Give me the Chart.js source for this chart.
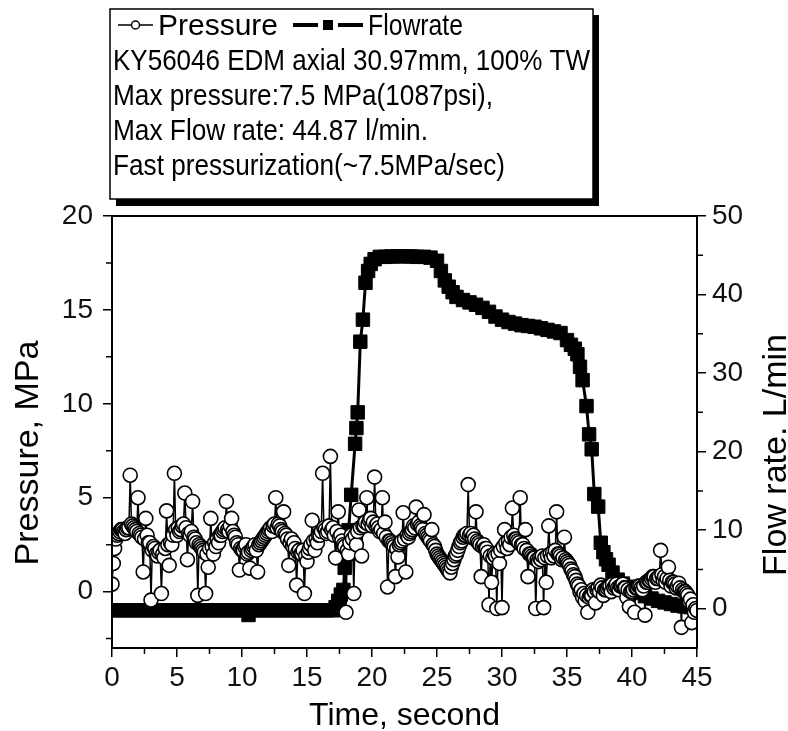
<!DOCTYPE html>
<html>
<head>
<meta charset="utf-8">
<script src="https://cdn.jsdelivr.net/npm/chart.js@4.4.0/dist/chart.umd.min.js"></script>
<style>
  html, body { margin: 0; padding: 0; background: #fff; }
</style>
</head>
<body>
<canvas id="chart" width="788" height="731"></canvas>
<script>
// pressure samples (MPa), one every 0.1 s
var pressureTime = [
  0,0.1,0.2,0.3,0.4,0.5,0.6,0.7,0.8,0.9, 1,1.1,1.2,1.3,1.4,1.5,1.6,1.7,1.8,1.9,
  2,2.1,2.2,2.3,2.4,2.5,2.6,2.7,2.8,2.9, 3,3.1,3.2,3.3,3.4,3.5,3.6,3.7,3.8,3.9,
  4,4.1,4.2,4.3,4.4,4.5,4.6,4.7,4.8,4.9, 5,5.1,5.2,5.3,5.4,5.5,5.6,5.7,5.8,5.9,
  6,6.1,6.2,6.3,6.4,6.5,6.6,6.7,6.8,6.9, 7,7.1,7.2,7.3,7.4,7.5,7.6,7.7,7.8,7.9,
  8,8.1,8.2,8.3,8.4,8.5,8.6,8.7,8.8,8.9, 9,9.1,9.2,9.3,9.4,9.5,9.6,9.7,9.8,9.9,
  10,10.1,10.2,10.3,10.4,10.5,10.6,10.7,10.8,10.9, 11,11.1,11.2,11.3,11.4,11.5,11.6,11.7,11.8,11.9,
  12,12.1,12.2,12.3,12.4,12.5,12.6,12.7,12.8,12.9, 13,13.1,13.2,13.3,13.4,13.5,13.6,13.7,13.8,13.9,
  14,14.1,14.2,14.3,14.4,14.5,14.6,14.7,14.8,14.9, 15,15.1,15.2,15.3,15.4,15.5,15.6,15.7,15.8,15.9,
  16,16.1,16.2,16.3,16.4,16.5,16.6,16.7,16.8,16.9, 17,17.1,17.2,17.3,17.4,17.5,17.6,17.7,17.8,17.9,
  18,18.1,18.2,18.3,18.4,18.5,18.6,18.7,18.8,18.9, 19,19.1,19.2,19.3,19.4,19.5,19.6,19.7,19.8,19.9,
  20,20.1,20.2,20.3,20.4,20.5,20.6,20.7,20.8,20.9, 21,21.1,21.2,21.3,21.4,21.5,21.6,21.7,21.8,21.9,
  22,22.1,22.2,22.3,22.4,22.5,22.6,22.7,22.8,22.9, 23,23.1,23.2,23.3,23.4,23.5,23.6,23.7,23.8,23.9,
  24,24.1,24.2,24.3,24.4,24.5,24.6,24.7,24.8,24.9, 25,25.1,25.2,25.3,25.4,25.5,25.6,25.7,25.8,25.9,
  26,26.1,26.2,26.3,26.4,26.5,26.6,26.7,26.8,26.9, 27,27.1,27.2,27.3,27.4,27.5,27.6,27.7,27.8,27.9,
  28,28.1,28.2,28.3,28.4,28.5,28.6,28.7,28.8,28.9, 29,29.1,29.2,29.3,29.4,29.5,29.6,29.7,29.8,29.9,
  30,30.1,30.2,30.3,30.4,30.5,30.6,30.7,30.8,30.9, 31,31.1,31.2,31.3,31.4,31.5,31.6,31.7,31.8,31.9,
  32,32.1,32.2,32.3,32.4,32.5,32.6,32.7,32.8,32.9, 33,33.1,33.2,33.3,33.4,33.5,33.6,33.7,33.8,33.9,
  34,34.1,34.2,34.3,34.4,34.5,34.6,34.7,34.8,34.9, 35,35.1,35.2,35.3,35.4,35.5,35.6,35.7,35.8,35.9,
  36,36.1,36.2,36.3,36.4,36.5,36.6,36.7,36.8,36.9, 37,37.1,37.2,37.3,37.4,37.5,37.6,37.7,37.8,37.9,
  38,38.1,38.2,38.3,38.4,38.5,38.6,38.7,38.8,38.9, 39,39.1,39.2,39.3,39.4,39.5,39.6,39.7,39.8,39.9,
  40,40.1,40.2,40.3,40.4,40.5,40.6,40.7,40.8,40.9, 41,41.1,41.2,41.3,41.4,41.5,41.6,41.7,41.8,41.9,
  42,42.1,42.2,42.3,42.4,42.5,42.6,42.7,42.8,42.9, 43,43.1,43.2,43.3,43.4,43.5,43.6,43.7,43.8,43.9,
  44,44.1,44.2,44.3,44.4,44.5,44.6,44.7,44.8,44.9, 45]
var pressure = [
  0.4,1.5,2.3,2.8,3.0,3.1,3.2,3.3,3.3,3.2, 3.1,3.3,3.4,3.4,6.2,3.6,3.5,3.4,3.3,3.2,
  5.0,3.1,3.0,2.9,1.05,2.8,3.9,3.0,2.6,2.6, -0.45,2.2,2.4,2.3,2.0,1.9,2.1,2.2,-0.1,2.0,
  1.8,2.3,4.3,2.5,1.4,2.6,2.5,3.0,6.3,3.3, 3.0,3.4,3.2,3.3,3.5,3.6,5.25,3.4,1.7,3.1,
  3.0,3.2,4.8,2.9,2.8,2.6,-0.2,2.5,2.4,2.3, 2.2,2.1,-0.1,2.0,1.3,2.3,3.9,2.4,2.0,2.6,
  2.4,2.8,2.6,3.0,3.0,3.2,3.3,3.4,4.8,3.3, 3.2,3.5,3.9,3.2,3.0,2.9,2.6,2.5,1.15,2.3,
  2.2,2.2,2.4,2.5,2.0,2.1,1.25,2.2,2.3,2.4, 2.5,2.2,1.05,2.5,2.6,2.7,2.8,2.9,3.0,3.1,
  3.2,3.3,3.4,3.2,3.5,3.6,5.0,3.4,3.6,3.5, 3.3,3.2,4.25,3.1,3.0,2.8,1.4,2.6,2.8,2.4,
  2.6,2.3,0.35,2.1,2.2,2.0,2.0,2.2,-0.1,1.9, 1.6,2.1,2.3,2.5,3.8,2.7,2.2,2.8,2.6,3.0,
  3.0,3.2,6.3,3.4,3.3,3.1,3.2,3.5,7.2,3.3, 3.4,3.0,1.8,3.2,4.25,2.9,3.0,2.7,2.5,2.4,
  -1.1,2.2,2.0,2.6,3.0,2.8,-0.1,3.0,2.5,3.2, 4.35,3.4,1.9,3.5,3.5,3.7,5.0,3.6,3.8,3.9,
  3.5,3.7,6.1,3.5,3.6,3.4,3.2,3.3,5.0,3.1, 3.7,2.9,0.25,2.7,2.7,2.6,2.5,2.4,0.8,2.3,
  1.85,2.5,2.6,2.7,4.2,2.8,1.05,3.0,2.9,3.1, 3.2,3.3,3.5,3.4,4.5,3.6,3.7,3.5,3.4,3.3,
  4.1,3.1,3.0,2.9,2.8,2.7,3.3,2.5,2.4,2.2, 2.0,1.9,1.8,1.7,1.6,1.5,1.4,1.3,1.2,1.1,
  1.0,1.3,1.5,1.7,1.9,2.0,2.2,2.4,2.6,2.7, 2.9,3.0,3.0,3.1,5.7,3.0,3.1,2.9,3.0,2.8,
  4.25,2.7,2.6,2.5,0.8,2.4,2.5,2.3,2.3,2.1, -0.7,1.9,0.5,1.8,2.0,1.9,-0.9,2.0,1.5,2.2,
  -0.85,2.4,3.3,2.6,2.3,2.7,2.5,2.9,4.45,3.0, 2.8,2.8,2.7,2.6,5.0,2.5,2.5,2.3,3.3,2.2,
  0.8,2.0,2.0,1.9,1.8,1.8,-0.9,1.7,1.6,1.8, 1.7,1.9,-0.85,1.8,0.5,1.9,3.5,2.0,1.8,2.1,
  1.9,2.2,4.25,2.0,2.0,1.9,1.7,1.8,2.9,1.7, 1.6,1.5,1.4,1.2,1.1,0.9,0.8,0.6,0.4,0.3,
  0.0,0.1,-0.3,-0.1,-0.5,-0.2,-1.1,-0.3,-0.2,-0.2, 0.1,0.0,-0.6,0.1,0.2,0.0,0.35,0.2,-0.2,0.1,
  0.1,0.2,0.3,0.3,0.0,0.4,0.2,0.3,0.4,0.2, 0.1,0.3,0.3,0.4,0.2,0.2,-0.3,0.1,-0.8,0.0,
  0.0,0.1,-1.1,0.2,0.2,0.3,0.3,0.2,0.1,0.3, -1.25,0.5,0.5,0.6,0.6,0.7,0.8,0.8,0.5,0.7,
  0.7,0.8,2.2,0.9,0.6,0.8,0.5,0.7,1.3,0.6, 0.3,0.5,0.5,0.4,0.2,0.3,0.45,0.2,-1.9,0.1,
  0.0,0.0,-0.1,-0.2,-0.5,-0.4,-1.65,-0.7,-1.1,-0.9, -1.0]

// flow rate samples (L/min)
var flowTime = [0,0.5,1,1.5,2,2.5,3,3.5,4,4.5,5,5.5,6,6.5,7,7.5,8,8.5,9,9.5,10,10.5,11,11.5,12,12.5,13,13.5,14,14.5,
  15,15.5,16,16.5,17,17.2,17.4,17.6,17.8,17.9,18,18.1,18.2,18.4,18.7,18.8,18.9,19.1,19.3,19.5,19.7,19.9,20.2,20.6,
  21,21.5,22,22.5,23,23.5,24,24.5,25,25.3,25.6,25.9,26.2,26.5,27,27.5,28,28.5,29,29.5,30,30.5,31,31.5,32,32.5,
  33,33.5,34,34.5,35,35.3,35.6,35.8,36,36.2,36.5,36.7,36.9,37.1,37.4,37.6,37.8,38,38.2,38.5,38.9,39.3,39.7,40.1,
  40.5,41,41.5,42,42.5,43,43.5,44,44.5,45]
var flow = [-0.2,-0.2,-0.2,-0.2,-0.2,-0.2,-0.2,-0.2,-0.2,-0.2,-0.2,-0.2,-0.2,-0.2,-0.2,-0.2,-0.2,-0.2,-0.2,-0.2,-0.2,-0.8,-0.2,-0.2,-0.2,-0.2,-0.2,-0.2,-0.2,-0.2,
  -0.2,-0.2,-0.2,-0.2,-0.2,0.2,1.0,1.8,2.4,5.2,7.0,8.5,10.0,14.5,21.0,23.0,25.0,34.0,36.8,41.5,43.0,43.9,44.5,44.8,
  44.8,44.85,44.87,44.87,44.85,44.8,44.8,44.7,44.3,43.0,41.8,41.0,40.3,39.7,39.3,39.0,38.7,38.3,37.8,37.2,36.8,36.5,36.3,36.1,36.0,35.9,
  35.7,35.5,35.3,35.1,34.2,33.6,33.1,32.4,30.8,29.1,25.8,22.2,20.3,14.6,13.0,8.4,7.2,6.3,5.6,4.6,3.7,3.2,2.8,2.3,
  2.0,1.6,1.3,1.0,0.8,0.6,0.4,0.3,0.2,0.1]

var xMinorTicks = [2.5,7.5,12.5,17.5,22.5,27.5,32.5,37.5,42.5]
var pressureMinorTicks = [-2.5,2.5,7.5,12.5,17.5]
var flowMinorTicks = [5,15,25,35,45]

var legendNotes = [
  'KY56046 EDM axial 30.97mm, 100% TW',
  'Max pressure:7.5 MPa(1087psi),',
  'Max Flow rate: 44.87 l/min.',
  'Fast pressurization(~7.5MPa/sec)'
]
var noteWidths = [477, 380, 315, 392]

var FONT = "'Liberation Sans', Arial, sans-serif"

function toPoints(xs, ys) {
  return xs.map(function (x, i) { return {x: x, y: ys[i]} })
}

// frame, minor ticks, axis titles and the boxed legend
var decorations = {
  id: 'decorations',
  afterDraw(chart) {
    var ctx = chart.ctx
    var a = chart.chartArea
    var s = chart.scales

    ctx.save()
    ctx.strokeStyle = '#000'
    ctx.lineWidth = 2
    ctx.strokeRect(a.left, a.top, a.right - a.left, a.bottom - a.top)

    ctx.lineWidth = 1.5
    ctx.beginPath()
    xMinorTicks.forEach(function (v) {
      var px = s.x.getPixelForValue(v)
      ctx.moveTo(px, a.bottom); ctx.lineTo(px, a.bottom + 6)
    })
    pressureMinorTicks.forEach(function (v) {
      var py = s.y.getPixelForValue(v)
      ctx.moveTo(a.left, py); ctx.lineTo(a.left - 6, py)
    })
    flowMinorTicks.forEach(function (v) {
      var py = s.y1.getPixelForValue(v)
      ctx.moveTo(a.right, py); ctx.lineTo(a.right + 6, py)
    })
    ctx.stroke()

    // axis titles
    ctx.fillStyle = '#000'
    ctx.textAlign = 'center'
    ctx.textBaseline = 'alphabetic'
    ctx.font = '32px ' + FONT
    ctx.fillText('Time, second', (a.left + a.right) / 2, 725)

    ctx.font = '34px ' + FONT
    ctx.save()
    ctx.translate(38, 453)
    ctx.rotate(-Math.PI / 2)
    ctx.fillText('Pressure, MPa', 0, 0)
    ctx.restore()
    ctx.save()
    ctx.translate(786, 455)
    ctx.rotate(-Math.PI / 2)
    ctx.fillText('Flow rate. L/min', 0, 0)
    ctx.restore()

    // legend box with shadow
    ctx.fillStyle = '#000'
    ctx.fillRect(116, 15, 483, 191)
    ctx.fillStyle = '#fff'
    ctx.fillRect(110, 9, 483, 190)
    ctx.lineWidth = 1.5
    ctx.strokeRect(110, 9, 483, 190)

    ctx.fillStyle = '#000'
    ctx.textAlign = 'left'
    ctx.font = '30px ' + FONT

    // series keys
    ctx.lineWidth = 1.5
    ctx.beginPath()
    ctx.moveTo(118, 25); ctx.lineTo(131, 25)
    ctx.moveTo(140, 25); ctx.lineTo(153, 25)
    ctx.stroke()
    ctx.beginPath()
    ctx.arc(135.5, 25, 4, 0, Math.PI * 2)
    ctx.stroke()
    ctx.fillText('Pressure', 158, 35, 122)

    ctx.lineWidth = 4
    ctx.beginPath()
    ctx.moveTo(293, 25); ctx.lineTo(318, 25)
    ctx.moveTo(338, 25); ctx.lineTo(363, 25)
    ctx.stroke()
    ctx.fillRect(323, 20, 10, 10)
    ctx.fillText('Flowrate', 368, 35, 95)

    legendNotes.forEach(function (txt, i) {
      ctx.fillText(txt, 113, 70 + i * 35, noteWidths[i])
    })
    ctx.restore()
  }
}

var tickFont = {family: FONT, size: 28}

new Chart(document.getElementById('chart'), {
  type: 'line',
  data: {
    datasets: [
      {
        label: 'Pressure',
        data: toPoints(pressureTime, pressure),
        yAxisID: 'y',
        borderColor: '#000',
        borderWidth: 1.5,
        pointStyle: 'circle',
        pointRadius: 7,
        pointBackgroundColor: '#fff',
        pointBorderColor: '#000',
        pointBorderWidth: 1.6,
        tension: 0
      },
      {
        label: 'Flowrate',
        data: toPoints(flowTime, flow),
        yAxisID: 'y1',
        borderColor: '#000',
        borderWidth: 3,
        pointStyle: 'rect',
        pointRadius: 9.5,
        pointBackgroundColor: '#000',
        pointBorderColor: '#000',
        pointBorderWidth: 1,
        tension: 0
      }
    ]
  },
  options: {
    responsive: false,
    animation: false,
    layout: {padding: {top: 216, left: 0, right: 0, bottom: 0}},
    plugins: {legend: {display: false}, tooltip: {enabled: false}},
    scales: {
      x: {
        type: 'linear',
        min: 0,
        max: 45,
        ticks: {stepSize: 5, font: tickFont, color: '#111', padding: 4, maxRotation: 0},
        grid: {drawOnChartArea: false, tickLength: 9, color: '#000', lineWidth: 1.5},
        border: {color: '#000', width: 2},
        afterFit: function (scale) { scale.height = 83 }
      },
      y: {
        position: 'left',
        min: -3,
        max: 20,
        ticks: {stepSize: 5, includeBounds: false, font: tickFont, color: '#111', padding: 10},
        grid: {drawOnChartArea: false, tickLength: 9, color: '#000', lineWidth: 1.5},
        border: {color: '#000', width: 2},
        afterFit: function (scale) { scale.width = 112 }
      },
      y1: {
        position: 'right',
        min: -5,
        max: 50,
        ticks: {stepSize: 10, includeBounds: false, font: tickFont, color: '#111', padding: 6},
        grid: {drawOnChartArea: false, tickLength: 9, color: '#000', lineWidth: 1.5},
        border: {color: '#000', width: 2},
        afterFit: function (scale) { scale.width = 91 }
      }
    }
  },
  plugins: [decorations]
})
</script>
</body>
</html>
